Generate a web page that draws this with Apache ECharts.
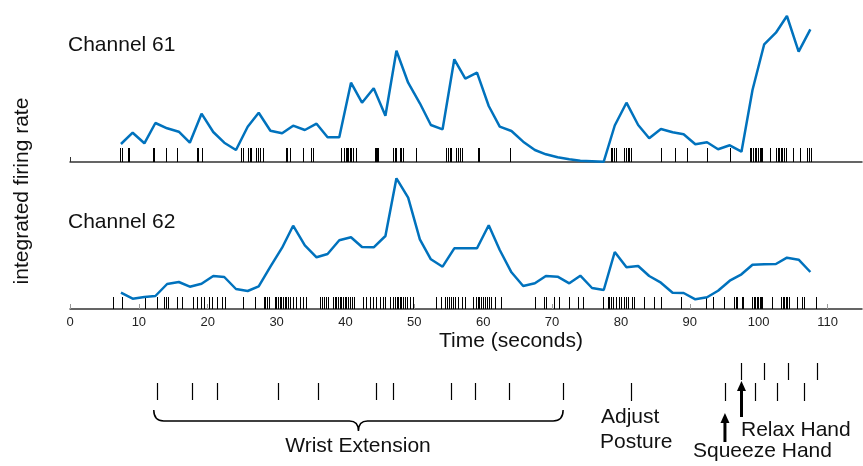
<!DOCTYPE html>
<html>
<head>
<meta charset="utf-8">
<script src="https://cdn.jsdelivr.net/npm/echarts@6/dist/echarts.min.js"></script>
<style>html,body{margin:0;padding:0;background:#fff;}#c{width:863px;height:466px;}</style>
</head>
<body>
<div id="c"></div>
<script>
// ---- data (time in seconds) ----
const times = [7.4, 9.1, 10.8, 12.4, 14.1, 15.8, 17.4, 19.1, 20.8, 22.4, 24.1, 25.8, 27.4, 29.1, 30.8, 32.4, 34.1, 35.8, 37.4, 39.1,
  40.8, 42.4, 44.1, 45.8, 47.4, 49.1, 50.8, 52.4, 54.1, 55.8, 57.4, 59.1, 60.8, 62.4, 64.1, 65.8, 67.5, 69.1, 70.8, 72.5,
  74.1, 75.8, 77.5, 79.1, 80.8, 82.5, 84.1, 85.8, 87.5, 89.1, 90.8, 92.5, 94.1, 95.8, 97.5, 99.1, 100.8, 102.5, 104.1, 105.8, 107.5];
const ch61 = [18, 29.3, 18.7, 39, 33.7, 30.3, 19.3, 48.3, 30, 19.3, 12, 35.3, 49.3, 31.3, 28.7, 36.3, 32, 38.3, 24.7, 24.7,
  79.3, 59.3, 73.7, 46.3, 111.3, 79.3, 58.7, 37, 32.7, 102.7, 83.3, 89.3, 56, 35.3, 31, 20.3, 12, 7.7, 4.7, 2.7,
  1.3, 0.8, 0.3, 36.5, 59.3, 37, 23.7, 33, 29.7, 27.7, 17.7, 19.7, 12.7, 16.7, 10.3, 72, 117.7, 129.3, 146, 110.3, 132.7];
const ch62 = [16.3, 10.3, 12, 13, 25, 27, 22.3, 25.3, 33, 32, 20, 18, 22.7, 42.3, 61.3, 83.3, 63.7, 51.7, 55, 68.7,
  71.7, 62, 61.7, 73, 130.7, 111.3, 69.7, 49.7, 42.3, 60.7, 60.7, 60.7, 83.7, 59, 36.7, 23, 25.7, 33, 32.3, 25.7,
  33.3, 21, 19, 57, 41.7, 43, 33, 26.3, 16.3, 16, 9.7, 11.7, 18.3, 28.3, 34.7, 44.3, 44.7, 45, 51.3, 49.3, 37];
const spikes61 = [7.25, 7.5, 8.37, 8.56, 12.08, 12.26, 13.92, 15.47, 18.38, 18.61, 19.22, 24.9, 25.09, 25.86, 26.1, 26.35, 27.08, 27.31, 27.56, 28.06,
  31.33, 31.52, 31.91, 33.79, 35.05, 35.24, 39.41, 39.74, 40.03, 40.22, 40.39, 40.61, 40.86, 41.04, 41.58, 44.24, 44.43, 44.6, 44.71,
  46.89, 47.14, 47.38, 47.86, 48.11, 48.34, 50.18, 54.63, 54.86, 55.11, 55.36, 56.08, 56.32, 56.56, 56.95, 59.22, 59.46, 63.89,
  78.56, 78.75, 78.97, 79.26, 80.49, 80.74, 80.97, 81.22, 81.47, 85.82, 87.82, 89.59, 92.46, 95.82,
  98.72, 98.91, 99.2, 99.45, 99.68, 99.93, 100.17, 100.36, 100.55, 101.62, 102.54, 102.76, 102.97, 103.22, 103.45, 103.7, 103.94,
  104.95, 106.06, 107.08, 107.32, 107.57];
const spikes62 = [6.19, 7.5, 10.88, 12.57, 13.68, 13.92, 14.17, 15.47, 16.2, 17.88, 18.46, 18.96, 19.43, 20.16, 20.55, 21.28, 22.0, 22.48,
  25.05, 26.83, 28.14, 28.38, 28.62, 28.9, 29.73, 29.98, 30.21, 30.46, 30.7, 30.94, 31.18, 31.43, 31.66, 31.91, 32.39, 32.88, 33.36, 33.84, 34.23,
  36.36, 36.59, 36.84, 37.23, 37.46, 38.19, 38.43, 38.68, 38.91, 39.16, 39.41, 39.64, 39.88, 40.13, 40.32, 40.61, 40.9, 41.19,
  42.54, 42.93, 43.51, 43.99, 44.48, 44.96, 45.44, 45.69, 46.41, 46.85, 47.13, 47.43, 47.61, 47.86, 48.11, 48.34, 48.59, 48.88, 49.31, 49.79,
  53.08, 53.91, 54.39, 54.68, 54.97, 55.26, 55.55, 55.84, 56.27, 56.85, 57.29, 58.49, 58.98, 59.22, 59.46, 59.75, 60.04, 60.33, 60.62, 60.91, 61.2, 61.78, 62.61,
  67.58, 68.79, 69.14, 70.34, 71.07, 72.52, 73.72, 74.44,
  77.35, 78.07, 78.32, 78.56, 78.8, 79.29, 79.77, 80.01, 80.49, 80.74, 80.97, 81.66, 81.95, 83.29, 84.84, 85.82, 88.72,
  92.34, 93.4, 94.89, 96.45, 96.64, 96.78, 97.56, 97.75, 99.06, 99.27, 99.49, 99.71, 99.93, 100.15, 100.36, 100.55, 101.91,
  103.22, 103.48, 103.7, 103.92, 104.13, 104.42, 105.63, 106.35, 106.6, 108.3];
const wristEvents = [12.6, 17.7, 21.4, 30.2, 36.0, 44.4, 46.9, 55.3, 58.8, 63.8, 71.6];
const adjustEvents = [81.5];
const squeezeEvents = [95.1, 99.4, 102.6, 106.6];
const relaxEvents = [97.5, 100.7, 104.3, 108.5];
const xTickLabels = [0, 10, 20, 30, 40, 50, 60, 70, 80, 90, 100, 110];

// ---- chart ----
const FONT = 'Liberation Sans, Arial, Helvetica, sans-serif';
const BLUE = '#0072BD';
const FS = 21;
const chart = echarts.init(document.getElementById('c'), null, {renderer: 'canvas'});

function pairs(arrT, arrV) { return arrT.map((t, i) => [t, arrV[i]]); }
function spikeRender(h) {
  return function (params, api) {
    const p0 = api.coord([api.value(0), 0]);
    return {type: 'line', shape: {x1: Math.round(p0[0]) + 0.5, y1: p0[1], x2: Math.round(p0[0]) + 0.5, y2: p0[1] - h},
      style: {stroke: '#000', lineWidth: 1}};
  };
}
function tickRender(y1, y2) {
  return function (params, api) {
    const p = api.coord([api.value(0), 0]);
    const x = Math.round(p[0]) + 0.5;
    return {type: 'line', shape: {x1: x, y1: y1, x2: x, y2: y2}, style: {stroke: '#000', lineWidth: 1.2}};
  };
}
function arrowRender(yTip, yTail) {
  return function (params, api) {
    if (params.dataIndex !== 0) return null;
    const x = api.coord([api.value(0), 0])[0];
    return {type: 'group', children: [
      {type: 'line', shape: {x1: x, y1: yTip + 8, x2: x, y2: yTail}, style: {stroke: '#000', lineWidth: 3}},
      {type: 'polygon', shape: {points: [[x, yTip], [x - 4.5, yTip + 10], [x + 4.5, yTip + 10]]}, style: {fill: '#000'}}
    ]};
  };
}
function braceRender(params, api) {
  if (params.dataIndex !== 0) return null;
  const x0 = api.coord([wristEvents[0], 0])[0] - 3;
  const x1 = api.coord([wristEvents[wristEvents.length - 1], 0])[0];
  const m = (x0 + x1) / 2;
  const yt = 410, yb = 421, yd = 431;
  const d = `M${x0},${yt} Q${x0},${yb} ${x0 + 10},${yb} L${m - 9},${yb} Q${m},${yb} ${m},${yd} Q${m},${yb} ${m + 9},${yb} L${x1 - 10},${yb} Q${x1},${yb} ${x1},${yt}`;
  return {type: 'path', shape: {pathData: d}, style: {stroke: '#000', fill: null, lineWidth: 1.5}};
}

const baseX = {type: 'value', min: 0, max: 115, splitLine: {show: false}};
const gridBase = {left: 70, right: 1, containLabel: false, outerBoundsMode: 'none'};
const option = {
  animation: false,
  backgroundColor: '#fff',
  grid: [
    Object.assign({}, gridBase, {top: 12, height: 150}),
    Object.assign({}, gridBase, {top: 159, height: 150}),
    Object.assign({}, gridBase, {top: 355, height: 111})
  ],
  xAxis: [
    Object.assign({}, baseX, {gridIndex: 0, axisLine: {show: true, lineStyle: {color: '#333', width: 1.5}},
      axisTick: {show: true, inside: true, length: 5, customValues: [0], lineStyle: {color: '#333'}}, axisLabel: {show: false}}),
    Object.assign({}, baseX, {gridIndex: 1, axisLine: {show: true, lineStyle: {color: '#333', width: 1.5}},
      axisTick: {show: true, inside: true, length: 5, customValues: xTickLabels, lineStyle: {color: '#999'}},
      axisLabel: {show: true, customValues: xTickLabels, color: '#222', fontSize: 13, fontFamily: FONT, margin: 7},
      name: 'Time (seconds)', nameLocation: 'middle', nameGap: 22,
      nameTextStyle: {fontSize: FS, fontFamily: FONT, color: '#111', verticalAlign: 'top', padding: [0, 0, 0, 90]}}),
    Object.assign({}, baseX, {gridIndex: 2, show: false})
  ],
  yAxis: [
    {type: 'value', gridIndex: 0, min: 0, max: 150, show: false},
    {type: 'value', gridIndex: 1, min: 0, max: 150, show: false},
    {type: 'value', gridIndex: 2, min: 0, max: 111, inverse: true, show: false}
  ],
  graphic: [
    {type: 'text', x: 68, y: 45, style: {text: 'Channel 61', fontSize: FS, fontFamily: FONT, fill: '#111', textVerticalAlign: 'middle', verticalAlign: 'middle'}},
    {type: 'text', x: 68, y: 222, style: {text: 'Channel 62', fontSize: FS, fontFamily: FONT, fill: '#111', textVerticalAlign: 'middle', verticalAlign: 'middle'}},
    {type: 'text', x: 22, y: 191, rotation: Math.PI / 2, style: {text: 'integrated firing rate', fontSize: FS, fontFamily: FONT, fill: '#111', textAlign: 'center', align: 'center', textVerticalAlign: 'middle', verticalAlign: 'middle'}},
    {type: 'text', x: 358, y: 446, style: {text: 'Wrist Extension', fontSize: FS, fontFamily: FONT, fill: '#111', textAlign: 'center', align: 'center', textVerticalAlign: 'middle', verticalAlign: 'middle'}},
    {type: 'text', x: 601, y: 417, style: {text: 'Adjust', fontSize: FS, fontFamily: FONT, fill: '#111', textVerticalAlign: 'middle', verticalAlign: 'middle'}},
    {type: 'text', x: 600, y: 442, style: {text: 'Posture', fontSize: FS, fontFamily: FONT, fill: '#111', textVerticalAlign: 'middle', verticalAlign: 'middle'}},
    {type: 'text', x: 741, y: 430, style: {text: 'Relax Hand', fontSize: FS, fontFamily: FONT, fill: '#111', textVerticalAlign: 'middle', verticalAlign: 'middle'}},
    {type: 'text', x: 693, y: 451, style: {text: 'Squeeze Hand', fontSize: FS, fontFamily: FONT, fill: '#111', textVerticalAlign: 'middle', verticalAlign: 'middle'}}
  ],
  series: [
    {type: 'custom', xAxisIndex: 0, yAxisIndex: 0, data: spikes61.map(t => [t, 0]), renderItem: spikeRender(14), z: 2},
    {type: 'line', xAxisIndex: 0, yAxisIndex: 0, data: pairs(times, ch61), showSymbol: false, symbol: 'none',
      lineStyle: {color: BLUE, width: 2.5}, z: 3},
    {type: 'custom', xAxisIndex: 1, yAxisIndex: 1, data: spikes62.map(t => [t, 0]), renderItem: spikeRender(12), z: 2},
    {type: 'line', xAxisIndex: 1, yAxisIndex: 1, data: pairs(times, ch62), showSymbol: false, symbol: 'none',
      lineStyle: {color: BLUE, width: 2.5}, z: 3},
    {type: 'custom', xAxisIndex: 2, yAxisIndex: 2, data: wristEvents.map(t => [t, 0]), renderItem: tickRender(383, 400)},
    {type: 'custom', xAxisIndex: 2, yAxisIndex: 2, data: wristEvents.map(t => [t, 0]), renderItem: braceRender},
    {type: 'custom', xAxisIndex: 2, yAxisIndex: 2, data: adjustEvents.map(t => [t, 0]), renderItem: tickRender(383, 401)},
    {type: 'custom', xAxisIndex: 2, yAxisIndex: 2, data: squeezeEvents.map(t => [t, 0]), renderItem: tickRender(383, 401)},
    {type: 'custom', xAxisIndex: 2, yAxisIndex: 2, data: relaxEvents.map(t => [t, 0]), renderItem: tickRender(363, 380)},
    {type: 'custom', xAxisIndex: 2, yAxisIndex: 2, data: squeezeEvents.map(t => [t, 0]), renderItem: arrowRender(413, 442)},
    {type: 'custom', xAxisIndex: 2, yAxisIndex: 2, data: relaxEvents.map(t => [t, 0]), renderItem: arrowRender(381, 417)}
  ]
};
chart.setOption(option);
</script>
</body>
</html>
